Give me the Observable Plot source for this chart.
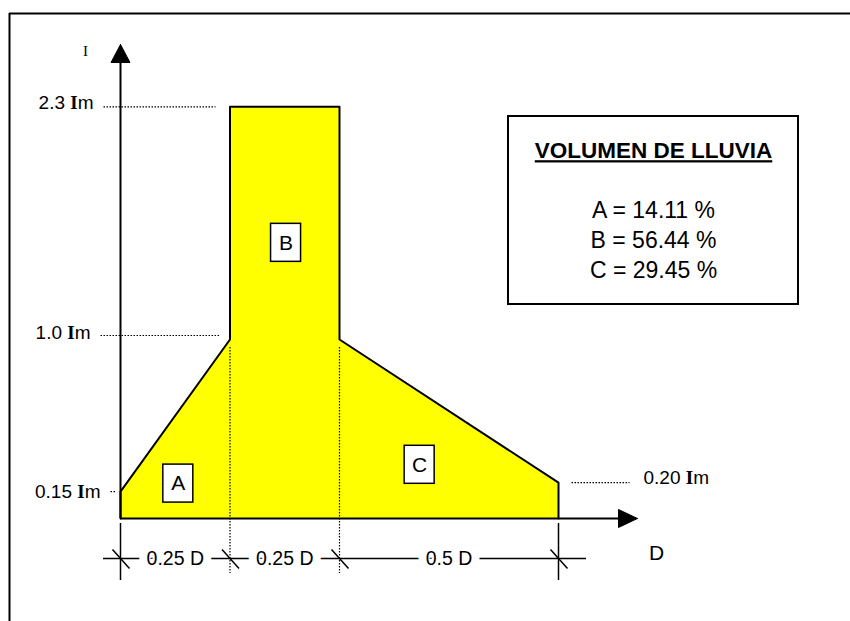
<!DOCTYPE html>
<html>
<head>
<meta charset="utf-8">
<script src="https://cdn.jsdelivr.net/npm/d3@7"></script>
<script src="https://cdn.jsdelivr.net/npm/@observablehq/plot@0.6"></script>
<style>
  html, body { margin: 0; padding: 0; background: #fff; }
  svg { display: block; }
</style>
</head>
<body>
<div id="chart"></div>
<script>
// ---------- DATA ----------
// Hyetograph profile: duration fraction (D) and intensity (in units of Im)
const profileD = [0, 0, 0.25, 0.25, 0.5, 0.5, 1.0, 1.0];
const profileI = [0, 0.15, 1.0, 2.3, 2.3, 1.0, 0.20, 0];
// Intensity levels marked on the figure
const levelValues = [2.3, 1.0, 0.15, 0.20];
const levelTexts = ["2.3 Im", "1.0 Im", "0.15 Im", "0.20 Im"];
// Duration breakpoints and span labels
const breakD = [0, 0.25, 0.5, 1.0];
const spanLabels = ["0.25 D", "0.25 D", "0.5 D"];
// Rain volume per area
const areaNames = ["A", "B", "C"];
const areaShares = [14.11, 56.44, 29.45];
const legendTitle = "VOLUMEN DE LLUVIA";
const yAxisLabel = "I";
const xAxisLabel = "D";

// ---------- LAYOUT ----------
const W = 850, H = 621;
const X0 = 120, PXD = 438;   // pixel of D=0, pixels per D
const Y0 = 518, PXI = 179;   // pixel of I=0, pixels per Im
const px = v => (v - X0) / PXD;   // pixel -> D units
const py = v => (Y0 - v) / PXI;   // pixel -> Im units
const ox = p => p / PXD;          // pixel offset in D units
const oy = p => p / PXI;          // pixel offset in Im units

const SANS = "Arial, 'Liberation Sans', sans-serif";
const SERIF = "'Times New Roman', 'Liberation Serif', serif";

const profile = profileD.map((d, i) => ({d, i: profileI[i]}));

// levels: label anchor and leader line (pixel layout)
const levelLayout = [
  {tx: 93,  anchor: "end",   dy: -4, l1: 103, l2: 215, ldy: 0},
  {tx: 90,  anchor: "end",   dy: -7, l1: 100, l2: 219, ldy: -4},
  {tx: 100, anchor: "end",   dy: 0,  l1: 110, l2: 116, ldy: 0},
  {tx: 643, anchor: "start", dy: -5, l1: 571, l2: 629, ldy: 0}
];
const levels = levelValues.map((v, k) => ({v, text: levelTexts[k], ...levelLayout[k]}));

// area label centres (D, Im)
const areaPos = [[0.132, 0.195], [0.378, 1.54], [0.683, 0.30]];
const areas = areaNames.map((n, k) => ({name: n, share: areaShares[k], d: areaPos[k][0], i: areaPos[k][1]}));

const spans = spanLabels.map((t, k) => ({text: t, d: (breakD[k] + breakD[k + 1]) / 2}));

const dimY = py(558);

const yHead = [
  {d: 0, i: py(44)}, {d: ox(-9.5), i: py(62)}, {d: ox(9.5), i: py(62)}, {d: 0, i: py(44)}
];
const xHead = [
  {d: px(637), i: 0}, {d: px(618), i: oy(9)}, {d: px(618), i: oy(-9)}, {d: px(637), i: 0}
];

const legendBox = {x1: px(508), x2: px(798), y1: py(116), y2: py(304)};
const legendCx = px(653);
const legendLines = areas.map((a, k) => ({text: `${a.name} = ${a.share.toFixed(2)} %`, i: py(210.5 + 30 * k)}));

const levelText = anchor => Plot.text(levels.filter(d => d.anchor === anchor), {
  x: d => px(d.tx), y: d => d.v + oy(-d.dy), text: "text", textAnchor: anchor,
  fontSize: 19, fill: "#000", lineAnchor: "middle"
});

const chart = Plot.plot({
  width: W, height: H,
  margin: 0,
  x: {domain: [px(0), px(W)], range: [0, W], axis: null},
  y: {domain: [py(H), py(0)], range: [H, 0], axis: null},
  style: {fontFamily: SANS, background: "#fff", overflow: "visible"},
  marks: [
    // partial outer frame
    Plot.ruleY([py(13)], {x1: px(9), x2: px(W + 2), stroke: "#000", strokeWidth: 2}),
    Plot.ruleX([px(9)], {y1: py(13), y2: py(H + 2), stroke: "#000", strokeWidth: 2}),
    // yellow hyetograph
    Plot.line(profile, {x: "d", y: "i", fill: "#ffff00", stroke: "#000", strokeWidth: 2, curve: "linear"}),
    // dotted subdivision lines
    Plot.ruleX([breakD[1], breakD[2]], {y1: py(347), y2: py(573), stroke: "#000", strokeWidth: 1.2, strokeDasharray: "1.5,1.5"}),
    // axes
    Plot.ruleX([0], {y1: 0, y2: py(60), stroke: "#000", strokeWidth: 2}),
    Plot.ruleY([0], {x1: 0, x2: px(620), stroke: "#000", strokeWidth: 2}),
    Plot.line(yHead, {x: "d", y: "i", fill: "#000", stroke: "#000", strokeWidth: 1}),
    Plot.line(xHead, {x: "d", y: "i", fill: "#000", stroke: "#000", strokeWidth: 1}),
    // level leaders + labels
    Plot.link(levels, {x1: d => px(d.l1), x2: d => px(d.l2), y1: d => d.v + oy(-d.ldy), y2: d => d.v + oy(-d.ldy),
      stroke: "#000", strokeWidth: 1.2, strokeDasharray: "1.5,1.5"}),
    levelText("end"),
    levelText("start"),
    // dimension line
    Plot.ruleY([dimY], {x1: px(103), x2: px(586), stroke: "#000", strokeWidth: 1.5}),
    Plot.ruleX([breakD[0], breakD[3]], {y1: py(523), y2: py(580), stroke: "#000", strokeWidth: 1.5}),
    Plot.link(breakD, {x1: d => d + ox(-8), y1: dimY + oy(9), x2: d => d + ox(9), y2: dimY + oy(-10), stroke: "#000", strokeWidth: 1.5}),
    Plot.text(spans, {x: "d", y: dimY, text: "text", fontSize: 19.5, fill: "#000", stroke: "#fff", strokeWidth: 16,
      paintOrder: "stroke", lineAnchor: "middle"}),
    // area boxes
    Plot.rect(areas, {x1: d => d.d - ox(15), x2: d => d.d + ox(15), y1: d => d.i - oy(19), y2: d => d.i + oy(19),
      fill: "#fff", stroke: "#000", strokeWidth: 1.5}),
    Plot.text(areas, {x: "d", y: "i", text: "name", fontSize: 21, fill: "#000", lineAnchor: "middle"}),
    // legend
    Plot.rect([legendBox], {x1: "x1", x2: "x2", y1: "y1", y2: "y2", fill: "#fff", stroke: "#000", strokeWidth: 2}),
    Plot.text([legendTitle], {x: legendCx, y: py(150.5), text: d => d, fontSize: 22.5, fontWeight: "bold", fill: "#000", lineAnchor: "middle"}),
    Plot.text(legendLines, {x: legendCx, y: "i", text: "text", fontSize: 23, fill: "#000", lineAnchor: "middle"}),
    // axis labels
    Plot.text([yAxisLabel], {x: px(85), y: py(51), text: d => d, fontSize: 15, fontFamily: SERIF, fill: "#000", lineAnchor: "middle"}),
    Plot.text([xAxisLabel], {x: px(656), y: py(553), text: d => d, fontSize: 21, fill: "#000", lineAnchor: "middle"})
  ]
});

document.getElementById("chart").appendChild(chart);

// Post-process: serif bold "I" in "Im" labels, underline title
d3.select(chart).selectAll("text").each(function () {
  const t = this.textContent;
  const m = /^([\d.]+) Im$/.exec(t);
  if (m) {
    const s = d3.select(this);
    s.text(null);
    s.append("tspan").text(m[1] + " ");
    s.append("tspan").attr("font-family", SERIF).attr("font-weight", "bold").text("I");
    s.append("tspan").text("m");
  } else if (t === legendTitle) {
    d3.select(this).style("text-decoration", "underline");
  }
});
</script>
</body>
</html>
